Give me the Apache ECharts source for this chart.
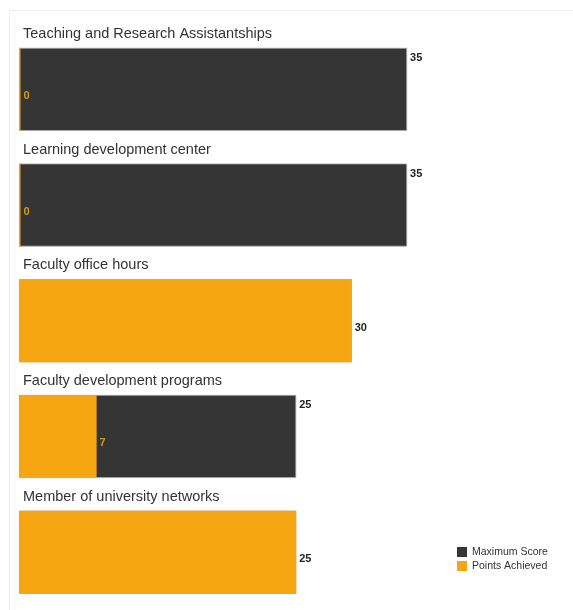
<!DOCTYPE html>
<html>
<head>
<meta charset="utf-8">
<script src="https://cdn.jsdelivr.net/npm/echarts@6/dist/echarts.min.js"></script>
<style>html,body{margin:0;padding:0;background:#fff}#c{width:573px;height:610px}</style>
</head>
<body>
<div id="c"></div>
<script>
var categories = ["Teaching and Research Assistantships", "Learning development center", "Faculty office hours", "Faculty development programs", "Member of university networks"];
var maxScore = [35, 35, 30, 25, 25];
var pointsAchieved = [0, 0, 30, 7, 25];
var seriesNames = ["Maximum Score", "Points Achieved"];

var DARK = '#353535', ORANGE = '#f5a612';

var maxData = maxScore.map(function (v, i) {
  var full = pointsAchieved[i] >= v;
  return { value: v, label: { show: !full } };
});
var ptsData = pointsAchieved.map(function (v, i) {
  var over = v < maxScore[i];
  return { value: v, label: { color: over ? '#d69a12' : '#222' } };
});

var chart = echarts.init(document.getElementById('c'), null, { renderer: 'canvas' });
chart.setOption({
  animation: false,
  backgroundColor: '#fff',
  graphic: [{
    type: 'rect', silent: true, z: -10,
    shape: { x: 9.5, y: 10.5, width: 800, height: 800 },
    style: { fill: 'none', stroke: '#ececec', lineWidth: 1 }
  }],
  legend: {
    data: seriesNames,
    orient: 'vertical',
    left: 452, top: 541.5,
    itemWidth: 10, itemHeight: 10, itemGap: 3,
    icon: 'rect',
    itemStyle: { borderWidth: 0 },
    textStyle: { fontFamily: 'Liberation Sans', fontSize: 10.5, color: '#333' }
  },
  grid: { left: 19, top: 31.5, height: 582, width: 499, containLabel: false },
  xAxis: { type: 'value', min: 0, max: 45, show: false },
  yAxis: {
    type: 'category', data: categories, inverse: true,
    axisLine: { show: false }, axisTick: { show: false }, splitLine: { show: false },
    axisLabel: { show: false }
  },
  series: [{
    name: 'names', type: 'bar', data: maxScore, barWidth: 83,
    itemStyle: { color: 'rgba(0,0,0,0)' }, silent: true,
    label: {
      show: true, position: [4, -14], align: 'left', verticalAlign: 'middle',
      formatter: '{b}',
      fontFamily: 'Liberation Sans', fontSize: 14.5, color: '#333'
    }
  }, {
    name: seriesNames[0], type: 'bar', data: maxData, barWidth: 83, barGap: '-100%',
    itemStyle: { color: DARK, borderColor: '#aaa', borderWidth: 0.8 },
    label: {
      show: true, position: 'right', distance: 3, offset: [0, -31.5],
      fontFamily: 'Liberation Sans', fontSize: 11, fontWeight: 'bold', color: '#222'
    }
  }, {
    name: seriesNames[1], type: 'bar', data: ptsData, barWidth: 83, barGap: '-100%',
    barMinHeight: 1.5,
    itemStyle: { color: ORANGE },
    label: {
      show: true, position: 'right', distance: 3, offset: [0, 7],
      fontFamily: 'Liberation Sans', fontSize: 11, fontWeight: 'bold'
    }
  }]
});
</script>
</body>
</html>
